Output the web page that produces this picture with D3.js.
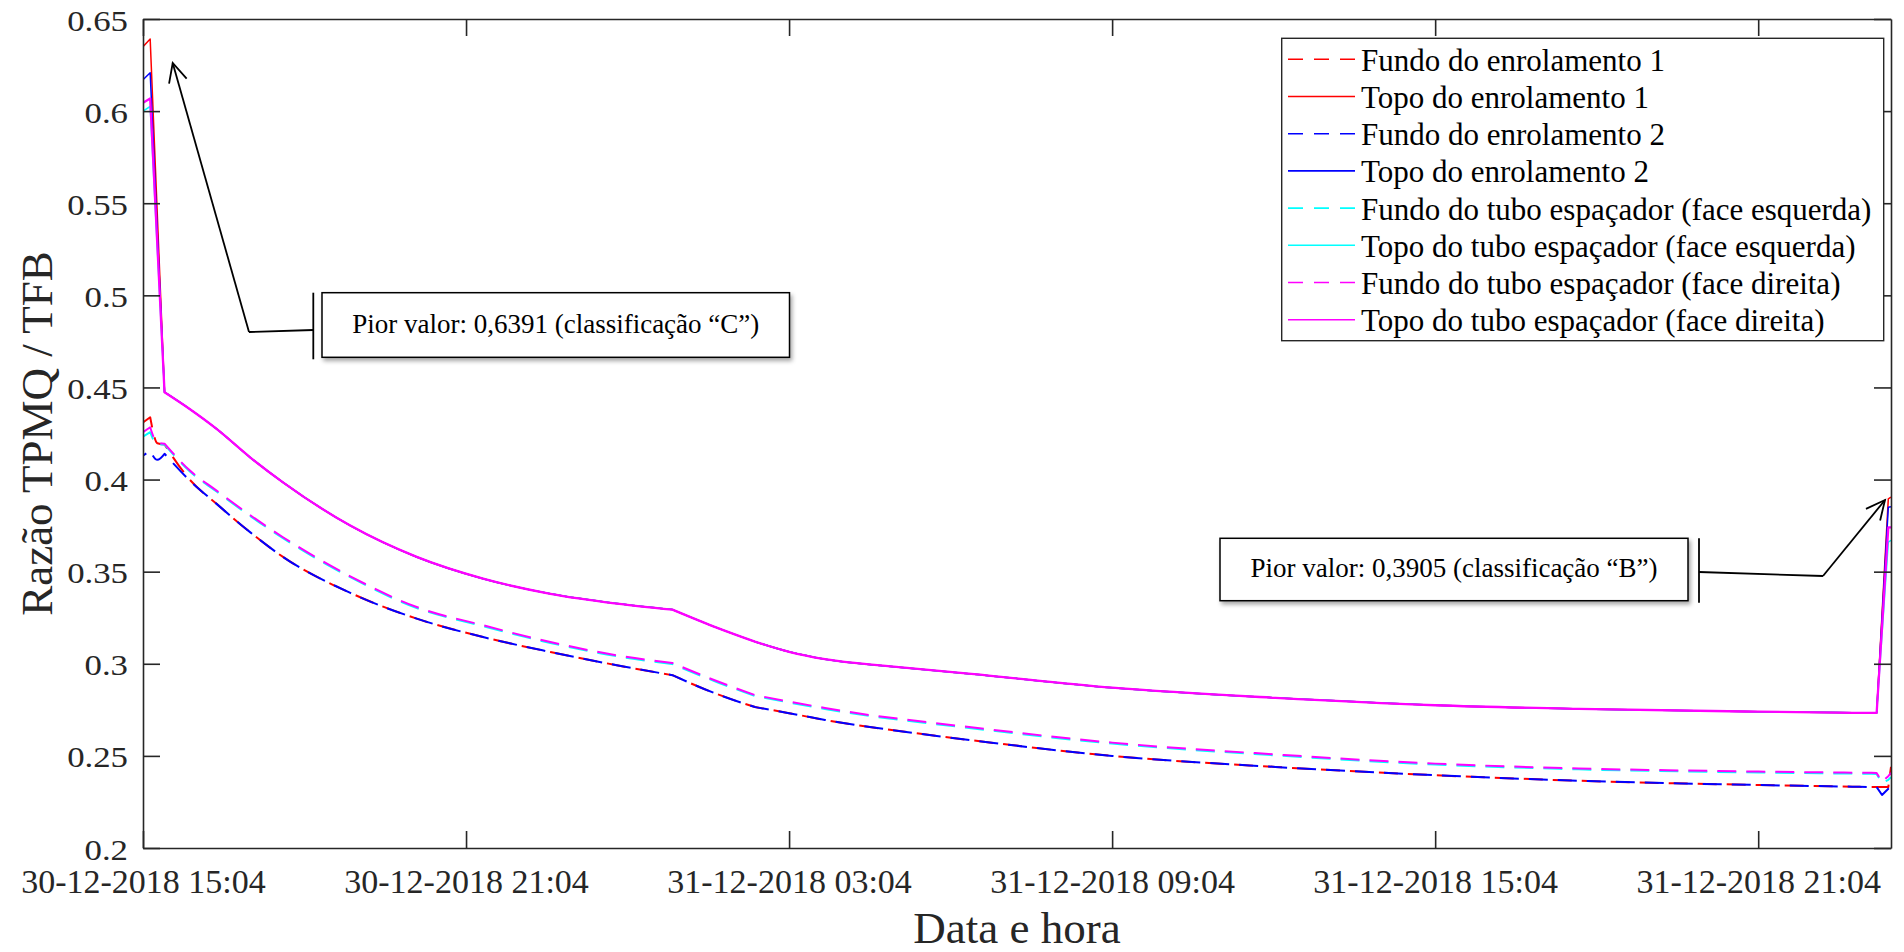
<!DOCTYPE html>
<html>
<head>
<meta charset="utf-8">
<script src="https://cdn.jsdelivr.net/npm/d3@7"></script>
<style>
  html, body { margin: 0; padding: 0; background: #fff; }
  svg { display: block; }
  svg text { font-family: "Liberation Serif", "Times New Roman", serif !important; }
</style>
</head>
<body>
<svg id="chart" width="1904" height="952" font-family="Liberation Serif"></svg>
<script>
// ---------------- DATA ----------------
const times = [
  "30-12-2018 15:04","30-12-2018 15:12","30-12-2018 15:20","30-12-2018 15:28","30-12-2018 15:56",
  "30-12-2018 16:26","30-12-2018 17:04","30-12-2018 17:40","30-12-2018 18:55","30-12-2018 20:09",
  "30-12-2018 21:23","30-12-2018 22:38","30-12-2018 23:52","31-12-2018 00:54","31-12-2018 01:44",
  "31-12-2018 02:26","31-12-2018 03:04","31-12-2018 03:44","31-12-2018 04:36","31-12-2018 06:27",
  "31-12-2018 09:04","31-12-2018 12:06","31-12-2018 15:04","31-12-2018 17:44","31-12-2018 21:04",
  "31-12-2018 22:49","31-12-2018 23:10","31-12-2018 23:16","31-12-2018 23:22","31-12-2018 23:29",
  "31-12-2018 23:32"
];
// sample indices where the curves change their trend (corners)
const cornerIdx = [1, 3, 13, 15, 18, 27, 28, 29];

// Fundo do enrolamento 1
const fundoEnrol1 = [0.431,0.4338,0.4197,0.419,0.4,0.3868,0.3712,0.358,0.3385,0.3245,0.3145,0.3064,0.2992,0.2938,0.2835,0.2765,0.2732,0.2695,0.2655,0.2585,0.25,0.244,0.2395,0.2365,0.2342,0.2333,0.2331,0.2331,0.2331,0.2331,0.2441];
// Topo do enrolamento 1
const topoEnrol1 = [0.635,0.6391,null,0.4474,0.4383,0.4275,0.4118,0.3985,0.375,0.358,0.3462,0.338,0.3327,0.3294,0.3195,0.312,0.3065,0.3025,0.2995,0.2945,0.287,0.2815,0.2775,0.2755,0.274,0.2734,0.2733,0.2733,null,0.3895,0.3905];
// Fundo do enrolamento 2
const fundoEnrol2 = [0.413,0.4157,0.4107,0.414,0.3995,0.3868,0.3712,0.358,0.3385,0.3245,0.3145,0.3064,0.2992,0.2938,0.2835,0.2765,0.2732,0.2695,0.2655,0.2585,0.25,0.244,0.2395,0.2365,0.2342,0.2333,0.2331,0.2331,0.2288,0.2322,0.2335];
// Topo do enrolamento 2
const topoEnrol2 = [0.617,0.6208,null,0.4474,0.4383,0.4275,0.4118,0.3985,0.375,0.358,0.3462,0.338,0.3327,0.3294,0.3195,0.312,0.3065,0.3025,0.2995,0.2945,0.287,0.2815,0.2775,0.2755,0.274,0.2734,0.2733,0.2733,null,0.385,0.3853];
// Fundo do tubo espaçador (face esquerda)
const fundoTuboEsq = [0.4233,0.4257,0.419,0.419,0.4045,0.3935,0.38,0.3682,0.347,0.3303,0.3204,0.3113,0.3041,0.2999,0.29,0.2825,0.279,0.2755,0.2715,0.265,0.2567,0.2503,0.2453,0.2427,0.241,0.2404,0.2403,0.2402,0.2353,0.237,0.2385];
// Topo do tubo espaçador (face esquerda)
const topoTuboEsq = [0.6,0.6025,null,0.4474,0.4383,0.4275,0.4118,0.3985,0.375,0.358,0.3462,0.338,0.3327,0.3294,0.3195,0.312,0.3065,0.3025,0.2995,0.2945,0.287,0.2815,0.2775,0.2755,0.274,0.2734,0.2733,0.2733,null,0.366,0.367];
// Fundo do tubo espaçador (face direita)
const fundoTuboDir = [0.4257,0.4284,0.42,0.4195,0.405,0.394,0.3805,0.3687,0.3475,0.3308,0.3209,0.3118,0.3046,0.3004,0.2905,0.283,0.2795,0.276,0.272,0.2655,0.2572,0.2508,0.2458,0.2432,0.2415,0.2409,0.2408,0.2407,0.236,0.239,0.2408];
// Topo do tubo espaçador (face direita)
const topoTuboDir = [0.6045,0.6069,null,0.4474,0.4383,0.4275,0.4118,0.3985,0.375,0.358,0.3462,0.338,0.3327,0.3294,0.3195,0.312,0.3065,0.3025,0.2995,0.2945,0.287,0.2815,0.2775,0.2755,0.274,0.2734,0.2733,0.2733,null,0.374,0.374];

const seriesNames = [
  "Fundo do enrolamento 1","Topo do enrolamento 1",
  "Fundo do enrolamento 2","Topo do enrolamento 2",
  "Fundo do tubo espaçador (face esquerda)","Topo do tubo espaçador (face esquerda)",
  "Fundo do tubo espaçador (face direita)","Topo do tubo espaçador (face direita)"
];
const seriesValues = [fundoEnrol1, topoEnrol1, fundoEnrol2, topoEnrol2, fundoTuboEsq, topoTuboEsq, fundoTuboDir, topoTuboDir];

const xDomain = ["30-12-2018 15:04", "31-12-2018 23:32"];
const xTickLabels = ["30-12-2018 15:04","30-12-2018 21:04","31-12-2018 03:04","31-12-2018 09:04","31-12-2018 15:04","31-12-2018 21:04"];
const yDomain = [0.2, 0.65];
const yTicks = [0.2,0.25,0.3,0.35,0.4,0.45,0.5,0.55,0.6,0.65];

const annotationTexts = ["Pior valor: 0,6391 (classificação \u201CC\u201D)", "Pior valor: 0,3905 (classificação \u201CB\u201D)"];
const xTitle = "Data e hora";
const yTitle = "Razão TPMQ / TFB";

// ---------------- STYLE ----------------
const colors = ["#ff0000","#ff0000","#0000ff","#0000ff","#00ffff","#00ffff","#ff00ff","#ff00ff"];
const dashed = [true,false,true,false,true,false,true,false];
const dashOffsets = [0,0,15,0,3,0,0,0];
const widths = [2,1.5,2,1.5,2,1.5,2,2.3];

const L = 143, R = 1891, T = 19, B = 848;
const axisColor = "#262626";
const SERIF = "Liberation Serif";

const svg = d3.select("#chart");
const parse = d3.timeParse("%d-%m-%Y %H:%M");
const fmt = d3.timeFormat("%d-%m-%Y %H:%M");

const x = d3.scaleTime().domain(xDomain.map(parse)).range([L, R]);
const y = d3.scaleLinear().domain(yDomain).range([B, T]);

svg.append("defs").html(`
  <filter id="shadow" x="-10%" y="-30%" width="130%" height="180%">
    <feDropShadow dx="2" dy="3" stdDeviation="2" flood-color="#000" flood-opacity="0.35"/>
  </filter>
  <clipPath id="clip"><rect x="${L}" y="${T}" width="${R-L}" height="${B-T}"/></clipPath>
`);

// ---------------- LINES ----------------
const line = d3.line().x(d => x(d.t)).y(d => y(d.v)).curve(d3.curveMonotoneX);
const cornerSet = new Set(cornerIdx);
function seriesPath(vals) {
  const pts = times.map((t, k) => ({t: parse(t), v: vals[k], k})).filter(d => d.v != null);
  // split into smooth pieces at corner samples, join into one path
  const pieces = [];
  let cur = [pts[0]];
  for (let j = 1; j < pts.length; j++) {
    cur.push(pts[j]);
    if (cornerSet.has(pts[j].k) && j < pts.length - 1) { pieces.push(cur); cur = [pts[j]]; }
  }
  if (cur.length > 1) pieces.push(cur);
  return pieces.map((p, n) => {
    const s = line(p);
    return n === 0 ? s : s.replace(/^M[^LCZ]*/, "");
  }).join("");
}
const gLines = svg.append("g").attr("clip-path", "url(#clip)");
seriesValues.forEach((vals, i) => {
  gLines.append("path")
    .attr("d", seriesPath(vals))
    .attr("fill", "none")
    .attr("stroke", colors[i])
    .attr("stroke-width", widths[i])
    .attr("stroke-linejoin", "round")
    .attr("stroke-dasharray", dashed[i] ? "19,10" : null)
    .attr("stroke-dashoffset", dashed[i] ? dashOffsets[i] : null);
});

// ---------------- AXES ----------------
const tickDates = xTickLabels.map(parse);
const gx = svg.append("g").attr("transform", `translate(0,${B})`)
  .call(d3.axisBottom(x).tickValues(tickDates).tickFormat(fmt).tickSize(-17).tickSizeOuter(0));
gx.attr("font-family", SERIF).attr("font-size", 34);
gx.selectAll("text").attr("y", 45).attr("dy", null)
  .attr("font-family", SERIF).attr("font-size", 34).attr("fill", axisColor);

const gxt = svg.append("g").attr("transform", `translate(0,${T})`)
  .call(d3.axisTop(x).tickValues(tickDates).tickFormat("").tickSize(-17).tickSizeOuter(0));

const gy = svg.append("g").attr("transform", `translate(${L},0)`)
  .call(d3.axisLeft(y).tickValues(yTicks).tickFormat(d => String(+d.toFixed(2))).tickSize(-17).tickSizeOuter(0));
gy.attr("font-family", SERIF).attr("font-size", 30);
gy.selectAll("text").attr("x", null).attr("dy", null)
  .attr("transform", "translate(-15,11) scale(1.16,1)")
  .attr("font-family", SERIF).attr("font-size", 30).attr("fill", axisColor);

const gyr = svg.append("g").attr("transform", `translate(${R},0)`)
  .call(d3.axisRight(y).tickValues(yTicks).tickFormat("").tickSize(-17).tickSizeOuter(0));

[gx, gxt, gy, gyr].forEach(g => {
  g.select(".domain").attr("stroke", axisColor).attr("stroke-width", 1.6);
  g.selectAll(".tick line").attr("stroke", axisColor).attr("stroke-width", 1.6);
});

// axis titles
svg.append("text").attr("x", (L + R) / 2).attr("y", 943).attr("text-anchor", "middle")
  .attr("font-family", SERIF).attr("font-size", 45).attr("fill", axisColor).text(xTitle);
svg.append("text").attr("transform", `translate(52,${(T + B) / 2}) rotate(-90)`).attr("text-anchor", "middle")
  .attr("font-family", SERIF).attr("font-size", 45).attr("fill", axisColor).text(yTitle);

// ---------------- LEGEND ----------------
const leg = svg.append("g");
leg.append("rect").attr("x", 1281.7).attr("y", 38.3).attr("width", 602).attr("height", 302.4)
  .attr("fill", "#fff").attr("stroke", axisColor).attr("stroke-width", 1.4);
seriesNames.forEach((name, i) => {
  const yy = 59.3 + i * 37.2;
  leg.append("line").attr("x1", 1288).attr("x2", 1355).attr("y1", yy).attr("y2", yy)
    .attr("stroke", colors[i]).attr("stroke-width", 1.6)
    .attr("stroke-dasharray", dashed[i] ? "15,11" : null);
  leg.append("text").attr("x", 1361).attr("y", yy + 11.4)
    .attr("font-family", SERIF).attr("font-size", 31).attr("fill", "#000").text(name);
});

// ---------------- ANNOTATIONS ----------------
function arrow(g, x0, y0, x1, y1) {
  g.append("line").attr("x1", x0).attr("y1", y0).attr("x2", x1).attr("y2", y1)
    .attr("stroke", "#000").attr("stroke-width", 1.8);
  const ang = Math.atan2(y1 - y0, x1 - x0), len = 21, spread = 0.45;
  const p = a => [x1 - len * Math.cos(ang + a), y1 - len * Math.sin(ang + a)];
  const a1 = p(spread), a2 = p(-spread);
  g.append("path").attr("d", `M${a1[0]},${a1[1]}L${x1},${y1}L${a2[0]},${a2[1]}`)
    .attr("fill", "none").attr("stroke", "#000").attr("stroke-width", 1.8);
}
function callout(box, barX, knee, tip, text) {
  const g = svg.append("g");
  g.append("rect").attr("x", box[0]).attr("y", box[1]).attr("width", box[2]).attr("height", box[3])
    .attr("fill", "#fff").attr("stroke", "#000").attr("stroke-width", 1.5).attr("filter", "url(#shadow)");
  g.append("text").attr("x", box[0] + box[2] / 2).attr("y", box[1] + box[3] / 2 + 7.5)
    .attr("text-anchor", "middle").attr("font-family", SERIF).attr("font-size", 27).attr("fill", "#000").text(text);
  g.append("line").attr("x1", barX).attr("x2", barX).attr("y1", box[1]).attr("y2", box[1] + box[3] + 2)
    .attr("stroke", "#000").attr("stroke-width", 1.8);
  g.append("line").attr("x1", barX).attr("y1", knee[2]).attr("x2", knee[0]).attr("y2", knee[1])
    .attr("stroke", "#000").attr("stroke-width", 1.8);
  arrow(g, knee[0], knee[1], tip[0], tip[1]);
}
callout([322, 292.7, 467.5, 64.6], 313.3, [249, 332, 330], [172.7, 63], annotationTexts[0]);
callout([1220, 538.3, 468, 62.4], 1699, [1823, 576, 572], [1885, 500], annotationTexts[1]);
</script>
</body>
</html>
